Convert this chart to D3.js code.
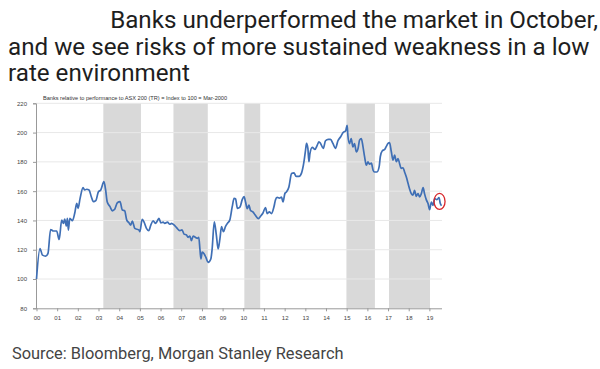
<!DOCTYPE html>
<html>
<head>
<meta charset="utf-8">
<script src="https://cdn.jsdelivr.net/npm/d3@7"></script>
<style>
  html, body { margin: 0; padding: 0; background: #ffffff; }
  svg { display: block; }
</style>
</head>
<body>
<svg id="chart" width="600" height="369"></svg>
<script>
// ---------- data ----------
const titleLines = [
  "Banks underperformed the market in October,",
  "and we see risks of more sustained weakness in a low",
  "rate environment"
];
const chartCaption = "Banks relative to performance to ASX 200 (TR) = Index to 100 = Mar-2000";
const sourceText = "Source: Bloomberg, Morgan Stanley Research";

const yTicks = [80, 100, 120, 140, 160, 180, 200, 220];
const yearTicks = ["2000-03-01","2001-03-01","2002-03-01","2003-03-01","2004-03-01","2005-03-01","2006-03-01","2007-03-01","2008-03-01","2009-03-01","2010-03-01","2011-03-01","2012-03-01","2013-03-01","2014-03-01","2015-03-01","2016-03-01","2017-03-01","2018-03-01","2019-03-01"];
const yearLabels = ["00","01","02","03","04","05","06","07","08","09","10","11","12","13","14","15","16","17","18","19"];

const bandStarts = ["2003-05-25","2006-10-15","2010-03-20","2015-02-25","2017-03-18"];
const bandEnds   = ["2005-03-20","2008-06-12","2010-12-25","2016-07-12","2019-03-12"];

const dates = [
  "2000-03-01","2000-05-01","2000-06-15","2000-08-10","2000-09-20","2000-11-05","2000-12-25","2001-02-20",
  "2001-04-05","2001-05-20","2001-06-20","2001-07-12","2001-08-10","2001-08-28","2001-09-15","2001-10-10",
  "2001-11-25","2002-01-05","2002-02-10","2002-03-05","2002-04-10","2002-06-01","2002-07-01","2002-08-05",
  "2002-09-15","2002-10-25","2002-12-01","2003-01-12","2003-02-28","2003-04-10","2003-06-05","2003-07-05",
  "2003-08-01","2003-09-20","2003-11-01","2003-12-12","2004-01-28","2004-03-15","2004-04-25","2004-06-05",
  "2004-07-12","2004-08-20","2004-09-20","2004-10-18","2004-12-01","2005-02-15","2005-03-01","2005-04-10",
  "2005-05-12","2005-06-25","2005-08-05","2005-09-10","2005-10-20","2005-12-01","2006-01-05","2006-02-01",
  "2006-03-05","2006-04-15","2006-05-15","2006-07-01","2006-08-12","2006-09-10","2006-10-28","2006-12-05",
  "2007-02-05","2007-03-15","2007-04-20","2007-06-01","2007-07-01","2007-08-01","2007-08-28","2007-09-28",
  "2007-11-05","2007-12-12","2008-01-05","2008-01-25","2008-02-12","2008-03-05","2008-04-10","2008-05-10",
  "2008-06-18","2008-08-05","2008-08-28","2008-10-05","2008-11-10","2008-12-12","2009-01-12","2009-02-10",
  "2009-03-15","2009-04-20","2009-05-25","2009-07-05","2009-08-18","2009-09-20","2009-10-15","2009-11-18",
  "2010-01-01","2010-02-12","2010-03-15","2010-04-10","2010-05-10","2010-06-10","2010-07-05","2010-08-18",
  "2010-10-01","2010-11-20","2011-01-01","2011-02-12","2011-03-28","2011-04-28","2011-06-05","2011-07-12",
  "2011-08-25","2011-09-20","2011-10-20","2011-12-01","2012-01-05","2012-02-01","2012-03-05","2012-04-03",
  "2012-05-15","2012-07-01","2012-08-12","2012-09-20","2012-11-10","2012-12-25","2013-02-05","2013-03-05",
  "2013-03-22","2013-04-15","2013-05-03","2013-05-22","2013-07-01","2013-08-18","2013-09-28","2013-10-28",
  "2013-11-25","2014-01-12","2014-02-20","2014-04-10","2014-05-20","2014-07-01","2014-08-15","2014-09-28",
  "2014-11-15","2014-12-25","2015-02-12","2015-03-10","2015-03-22","2015-04-20","2015-05-20","2015-06-20",
  "2015-07-18","2015-08-18","2015-09-18","2015-10-15","2015-11-15","2015-12-15","2016-01-12","2016-02-12",
  "2016-03-12","2016-04-10","2016-05-10","2016-06-10","2016-07-05","2016-08-18","2016-09-25","2016-10-15",
  "2016-11-20","2017-01-01","2017-02-01","2017-03-01","2017-03-28","2017-04-28","2017-05-28","2017-06-25",
  "2017-07-25","2017-08-25","2017-09-20","2017-10-20","2017-11-20","2017-12-18","2018-01-18","2018-02-18",
  "2018-03-15","2018-04-15","2018-05-15","2018-06-12","2018-07-12","2018-08-12","2018-09-10","2018-10-10",
  "2018-11-10","2018-12-05","2019-01-05","2019-02-05","2019-03-05","2019-04-05","2019-05-05","2019-06-01",
  "2019-07-12","2019-08-18","2019-09-10","2019-10-01"
];
const values = [
  100,120.8,116.3,115.6,117.5,133.8,132.8,132.8,
  127,140.2,138,140.9,136.2,141.4,133.4,141.4,
  139.8,144.9,151.7,148.3,155.1,162.4,160.8,161.3,
  160.8,156.2,152.8,153.5,159.6,160.8,166.5,160.8,
  152.8,149.4,146.6,147.6,152.1,152.8,147.1,146.6,
  140.2,138.4,136.8,139.5,134.6,133.4,132.3,140.8,
  139,134.6,133,136.8,139.8,138,139.8,141.4,
  138.4,138.9,138,138.9,137.4,138,136.8,135.3,
  133,133.5,130.7,130.1,128.5,129.3,126.2,129.3,
  128.5,127.8,128.5,120.6,113.7,118.3,117.1,114.8,
  111.4,113.7,120.5,139,130.2,120.5,127.3,135.8,
  132.3,135.8,138,140.2,149.4,155.1,154.8,148.3,
  149.1,154.4,156.3,152.6,148.1,150.4,147,145.8,
  143.5,141.3,142.9,145.1,148.8,144.7,145.8,144.7,
  149.3,153.9,155.7,155.2,156,152.6,158.4,159.5,
  162.9,172,172.5,170.1,170.1,172.5,180.1,188.1,
  192.6,189.2,180.1,185.8,189.9,188.5,191.5,193.7,
  192.6,189.2,194.4,195.4,195.4,192.6,189.2,194.4,
  197.2,199.9,201.3,205,198.2,192.5,195.9,190.2,
  192.5,186.8,189.1,194.8,195.9,190.2,183.4,177.7,
  180,178.4,179.1,174.3,173.1,173.1,176.7,183.5,
  187.6,188.5,190.8,192.6,193.1,186.9,181.2,184.7,
  180.1,182.3,178.9,175.5,176,173.1,169.7,165.2,
  161.7,158.3,157.2,160.6,156.5,158.3,156,158.3,
  162.5,158.3,154.2,151.5,147.4,152.6,150.3,154.9,
  154.2,155.6,151.5,150
];
const highlightDate = "2019-08-01";
const highlightValue = 153;

// ---------- drawing ----------
const parse = d3.timeParse("%Y-%m-%d");
const svg = d3.select("#chart");

const x = d3.scaleTime()
  .domain([parse("2000-03-01"), parse("2019-10-01")])
  .range([36.5, 441.5]);
const y = d3.scaleLinear().domain([80, 220]).range([308.3, 103.3]);

// title
svg.append("g").selectAll("text").data(titleLines).join("text")
  .attr("x", (d, i) => i === 0 ? 598 : 8)
  .attr("text-anchor", (d, i) => i === 0 ? "end" : "start")
  .attr("y", (d, i) => 28 + i * 26.5)
  .attr("font-family", "Roboto, 'Noto Sans', sans-serif")
  .attr("font-size", 24.2)
  .attr("fill", "#1e1e1e")
  .text(d => d);

// chart caption
svg.append("text")
  .attr("x", 43).attr("y", 99.5)
  .attr("font-family", "'Liberation Sans', Arial, sans-serif")
  .attr("font-size", 5.6)
  .attr("fill", "#333")
  .text(chartCaption);

// bands
svg.append("g").selectAll("rect").data(bandStarts).join("rect")
  .attr("x", (d) => x(parse(d)))
  .attr("width", (d, i) => x(parse(bandEnds[i])) - x(parse(d)))
  .attr("y", y(220))
  .attr("height", y(80) - y(220))
  .attr("fill", "#d9d9d9");

// gridlines
svg.append("g").selectAll("line").data(yTicks.filter(v => v > 80)).join("line")
  .attr("x1", 36).attr("x2", 442)
  .attr("y1", d => y(d)).attr("y2", d => y(d))
  .attr("stroke", "#e8e8e8").attr("stroke-width", 1);

// y axis
const yAxis = svg.append("g")
  .attr("transform", "translate(36,0)")
  .call(d3.axisLeft(y).tickValues(yTicks).tickSize(3).tickPadding(6).tickFormat(d3.format("d")));
yAxis.select(".domain").attr("stroke", "#999");
yAxis.selectAll(".tick line").attr("stroke", "#999");
yAxis.selectAll(".tick text")
  .attr("font-family", "'Liberation Sans', Arial, sans-serif")
  .attr("font-size", 6).attr("fill", "#444");

// x axis
const xAxis = svg.append("g")
  .attr("transform", `translate(0,${y(80)})`)
  .call(d3.axisBottom(x)
    .tickValues(yearTicks.map(parse))
    .tickSize(3).tickSizeOuter(0).tickPadding(4)
    .tickFormat((d, i) => yearLabels[i]));
xAxis.select(".domain").attr("stroke", "#999").attr("d", `M36,0.5H442`);
xAxis.selectAll(".tick line").attr("stroke", "#999");
xAxis.selectAll(".tick text")
  .attr("font-family", "'Liberation Sans', Arial, sans-serif")
  .attr("font-size", 6).attr("fill", "#444");

// series line
const series = dates.map((d, i) => ({ date: parse(d), value: values[i] }));
svg.append("path")
  .datum(series)
  .attr("fill", "none")
  .attr("stroke", "#3f6fb5")
  .attr("stroke-width", 1.7)
  .attr("stroke-linejoin", "round")
  .attr("d", d3.line().x(d => x(d.date)).y(d => y(d.value)).curve(d3.curveMonotoneX));

// highlight circle
svg.append("ellipse")
  .attr("cx", x(parse(highlightDate)) + 1.5)
  .attr("cy", y(highlightValue))
  .attr("rx", 5.5).attr("ry", 8)
  .attr("fill", "none")
  .attr("stroke", "#d7262b")
  .attr("stroke-width", 1.3);

// source
svg.append("text")
  .attr("x", 12).attr("y", 359)
  .attr("font-family", "Roboto, 'Noto Sans', sans-serif")
  .attr("font-size", 16.4)
  .attr("fill", "#444")
  .text(sourceText);
</script>
</body>
</html>
